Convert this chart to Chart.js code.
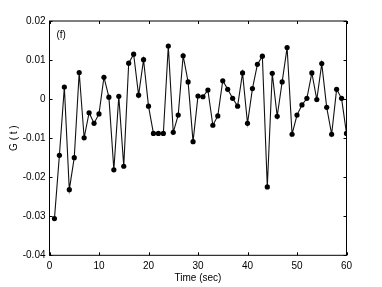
<!DOCTYPE html>
<html>
<head>
<meta charset="utf-8">
<script src="https://cdn.jsdelivr.net/npm/chart.js@4/dist/chart.umd.min.js"></script>
<style>
  html, body { margin: 0; padding: 0; background: #fff; }
  #wrap { width: 382px; height: 287px; }
</style>
</head>
<body>
<div id="wrap"><canvas id="chart" width="382" height="287"></canvas></div>
<script>
// ============================================================
// Data
// ============================================================
const timeSec = [
  1, 2, 3, 4, 5, 6, 7, 8, 9, 10,
  11, 12, 13, 14, 15, 16, 17, 18, 19, 20,
  21, 22, 23, 24, 25, 26, 27, 28, 29, 30,
  31, 32, 33, 34, 35, 36, 37, 38, 39, 40,
  41, 42, 43, 44, 45, 46, 47, 48, 49, 50,
  51, 52, 53, 54, 55, 56, 57, 58, 59, 60,
];

const gValues = [
  -0.0306, -0.0144, 0.0031, -0.0232, -0.0150, 0.0068, -0.0099, -0.0035, -0.0062, -0.0038,
  0.0056, 0.0005, -0.0181, 0.0007, -0.0172, 0.0092, 0.0115, 0.0010, 0.0101, -0.0018,
  -0.0088, -0.0088, -0.0088, 0.0136, -0.0085, -0.0041, 0.0111, 0.0044, -0.0109, 0.0008,
  0.0006, 0.0023, -0.0067, -0.0043, 0.0047, 0.0025, 0.0002, -0.0018, 0.0067, -0.0062,
  0.0027, 0.0089, 0.0110, -0.0225, 0.0066, -0.0044, 0.0044, 0.0132, -0.0090, -0.0041,
  -0.0015, 0.0002, 0.0067, -0.0001, 0.0091, -0.0021, -0.0090, 0.0025, 0.0002, -0.0088,
];

const xTicks = [0, 10, 20, 30, 40, 50, 60];
const yTicks = [-0.04, -0.03, -0.02, -0.01, 0, 0.01, 0.02];

const panelLabel = "(f)";
const xTitle = "Time (sec)";
const yTitle = "G ( t )";

// ============================================================
// Helpers
// ============================================================
const FONT = "'Liberation Sans', Arial, Helvetica, sans-serif";
const fmtY = (v) => (Math.abs(v) < 1e-9 ? "0" : v.toFixed(2));

// MATLAB-style box with ticks pointing inward on all four sides
const boxPlugin = {
  id: "box",
  afterDraw(chart) {
    const { ctx, chartArea: a, scales } = chart;
    const len = 3;
    ctx.save();
    ctx.strokeStyle = "#000";
    ctx.lineWidth = 1;
    ctx.strokeRect(a.left, a.top, a.right - a.left, a.bottom - a.top);
    ctx.beginPath();
    xTicks.forEach((t) => {
      const px = Math.round(scales.x.getPixelForValue(t)) + 0.5;
      ctx.moveTo(px, a.bottom); ctx.lineTo(px, a.bottom - len);
      ctx.moveTo(px, a.top); ctx.lineTo(px, a.top + len);
    });
    yTicks.forEach((t) => {
      const py = Math.round(scales.y.getPixelForValue(t)) + 0.5;
      ctx.moveTo(a.left, py); ctx.lineTo(a.left + len, py);
      ctx.moveTo(a.right, py); ctx.lineTo(a.right - len, py);
    });
    ctx.stroke();

    ctx.fillStyle = "#000";
    ctx.font = `10px ${FONT}`;
    ctx.textAlign = "left";
    ctx.textBaseline = "middle";
    ctx.fillText(panelLabel, a.left + 7, a.top + 14);
    ctx.restore();
  },
};

// ============================================================
// Chart
// ============================================================
new Chart(document.getElementById("chart"), {
  type: "line",
  data: {
    labels: timeSec,
    datasets: [{
      data: timeSec.map((t, i) => ({ x: t, y: gValues[i] })),
      borderColor: "#111",
      borderWidth: 1.1,
      pointRadius: 2.6,
      pointBackgroundColor: "#000",
      pointBorderWidth: 0,
      tension: 0,
    }],
  },
  options: {
    responsive: false,
    animation: false,
    layout: { padding: { left: 0, top: 21, right: 35.5, bottom: 0 } },
    plugins: { legend: { display: false }, tooltip: { enabled: false } },
    scales: {
      x: {
        type: "linear",
        min: 0,
        max: 60,
        afterBuildTicks: (s) => { s.ticks = xTicks.map((v) => ({ value: v })); },
        afterFit: (s) => { s.height = 31.7; },
        grid: { display: false, drawTicks: false },
        border: { display: false },
        ticks: { color: "#000", padding: 5, font: { family: FONT, size: 10 } },
        title: {
          display: true,
          text: xTitle,
          color: "#000",
          font: { family: FONT, size: 10 },
          padding: { top: 0, bottom: 3 },
        },
      },
      y: {
        min: -0.04,
        max: 0.02,
        afterBuildTicks: (s) => { s.ticks = yTicks.map((v) => ({ value: v })); },
        afterFit: (s) => { s.width = 49.5; },
        grid: { display: false, drawTicks: false },
        border: { display: false },
        ticks: { color: "#000", padding: 4, font: { family: FONT, size: 10 }, callback: fmtY },
        title: {
          display: true,
          text: yTitle,
          color: "#000",
          font: { family: FONT, size: 10 },
          padding: { top: 8, bottom: 8 },
        },
      },
    },
  },
  plugins: [boxPlugin],
});
</script>
</body>
</html>
